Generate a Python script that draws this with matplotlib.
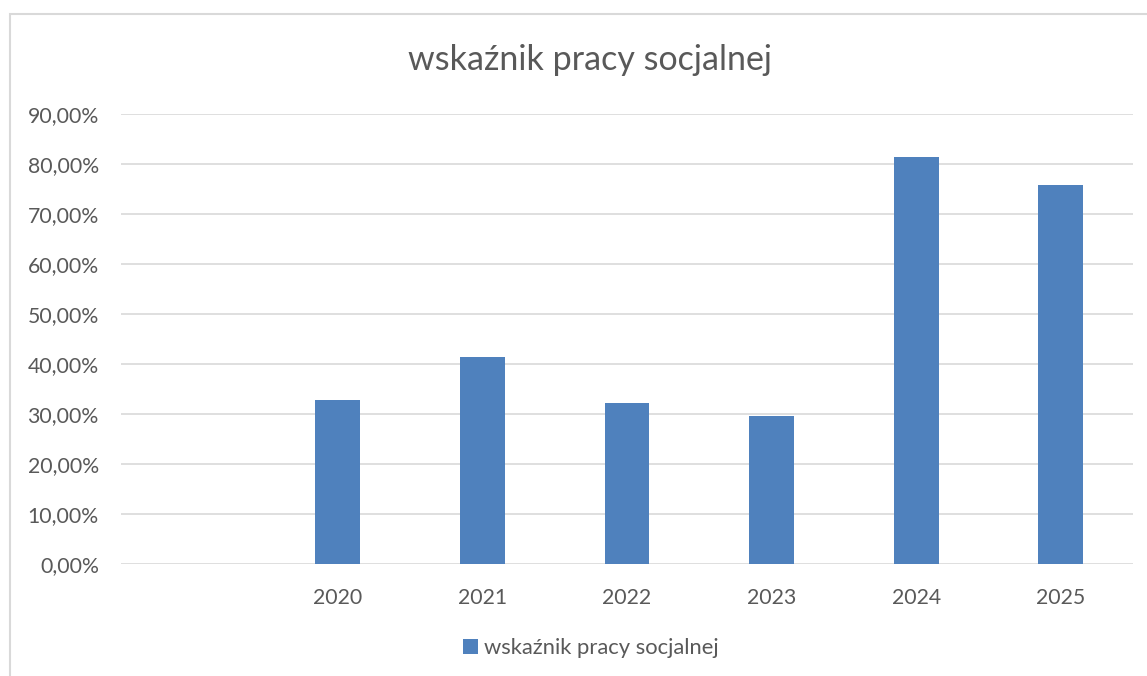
import numpy as np
import matplotlib.pyplot as plt
from matplotlib.patches import Rectangle
from matplotlib.ticker import FuncFormatter

# Data (first category is empty)
categories = ['', '2020', '2021', '2022', '2023', '2024', '2025']
values = [np.nan, 0.328, 0.415, 0.323, 0.297, 0.814, 0.759]
series_name = 'wskaźnik pracy socjalnej'

plt.rcParams['font.family'] = ['Lato', 'DejaVu Sans']
text_color = '#595959'
grid_color = '#d9d9d9'
bar_color = '#4f81bd'

fig = plt.figure(figsize=(11.47, 6.76), dpi=100)

# Chart area frame
fig.patches.append(Rectangle((10 / 1147, -0.1), 1.2, (676 - 14) / 676 + 0.1,
                             transform=fig.transFigure, fill=False,
                             edgecolor=grid_color, linewidth=1.5))

ax = fig.add_axes([121 / 1147, 112 / 676, (1133 - 121) / 1147, 450 / 676])

x = np.arange(len(categories))
ax.bar(x, values, width=0.31, color=bar_color, label=series_name, zorder=3)

ax.set_xlim(-0.5, len(categories) - 0.5)
ax.set_ylim(0, 0.9)
ax.set_yticks(np.arange(0, 0.91, 0.1))
ax.yaxis.set_major_formatter(FuncFormatter(lambda v, p: f'{v * 100:.2f}%'.replace('.', ',')))
ax.set_xticks(x)
ax.set_xticklabels(categories)

ax.grid(axis='y', color=grid_color, linewidth=1.2, zorder=0)
for s in ax.spines.values():
    s.set_visible(False)
ax.tick_params(length=0, labelsize=15.3, colors=text_color)
ax.tick_params(axis='y', pad=16)
ax.tick_params(axis='x', pad=17)

fig.text(590 / 1147, 1 - 60 / 676, 'wskaźnik pracy socjalnej', ha='center', va='center',
         fontsize=24.5, color=text_color)

ax.legend(loc='center', bbox_to_anchor=(591 / 1147, 1 - 648 / 676),
          bbox_transform=fig.transFigure, frameon=False, fontsize=15.8,
          labelcolor=text_color, handlelength=0.65, handleheight=0.65, handletextpad=0.3)

fig.savefig('out.png', dpi=100)
